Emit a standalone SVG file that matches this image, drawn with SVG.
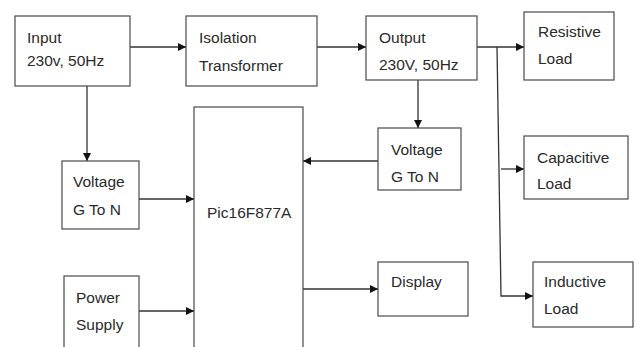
<svg xmlns="http://www.w3.org/2000/svg" width="636" height="347" viewBox="0 0 636 347">
<style>
.box{fill:#fff;stroke:#4a4a4a;stroke-width:1.2}
.t{font-family:"Liberation Sans",Arial,sans-serif;font-size:15.5px;fill:#2a2a2a}
.c{fill:none;stroke:#333;stroke-width:1.3}
</style>
<defs>
<marker id="ah" viewBox="0 0 10 10" refX="10" refY="5" markerWidth="8" markerHeight="8" markerUnits="userSpaceOnUse" orient="auto">
<path d="M0,0 L10,5 L0,10 Z" fill="#111"/>
</marker>
</defs>
<rect width="636" height="347" fill="#fff"/>
<g id="connectors">
<line class="c" x1="130" y1="47" x2="186" y2="47" marker-end="url(#ah)"/>
<line class="c" x1="317" y1="47" x2="366" y2="47" marker-end="url(#ah)"/>
<line class="c" x1="477" y1="47" x2="524" y2="47" marker-end="url(#ah)"/>
<line class="c" x1="87" y1="86" x2="87" y2="161" marker-end="url(#ah)"/>
<line class="c" x1="418" y1="80" x2="418" y2="128" marker-end="url(#ah)"/>
<line class="c" x1="378" y1="161" x2="303" y2="161" marker-end="url(#ah)"/>
<line class="c" x1="139" y1="199" x2="194" y2="199" marker-end="url(#ah)"/>
<line class="c" x1="139" y1="311" x2="194" y2="311" marker-end="url(#ah)"/>
<line class="c" x1="303" y1="289" x2="378" y2="289" marker-end="url(#ah)"/>
<polyline class="c" points="497,47 501,296 533,296" marker-end="url(#ah)"/>
<line class="c" x1="501" y1="169" x2="524" y2="169" marker-end="url(#ah)"/>
</g>
<g id="input">
<rect class="box" x="15" y="16" width="115" height="70"/>
<text class="t" x="27" y="43">Input</text>
<text class="t" x="27" y="66">230v, 50Hz</text>
</g>
<g id="isolation">
<rect class="box" x="186" y="16" width="131" height="70"/>
<text class="t" x="199" y="43">Isolation</text>
<text class="t" x="199" y="71">Transformer</text>
</g>
<g id="output">
<rect class="box" x="366" y="16" width="111" height="64"/>
<text class="t" x="379" y="43">Output</text>
<text class="t" x="379" y="70">230V, 50Hz</text>
</g>
<g id="resistive">
<rect class="box" x="524" y="12" width="90" height="68"/>
<text class="t" x="538" y="37">Resistive</text>
<text class="t" x="538" y="64">Load</text>
</g>
<g id="voltage-right">
<rect class="box" x="378" y="128" width="83" height="62"/>
<text class="t" x="391" y="155">Voltage</text>
<text class="t" x="391" y="182">G To N</text>
</g>
<g id="capacitive">
<rect class="box" x="524" y="136" width="104" height="63"/>
<text class="t" x="537" y="163">Capacitive</text>
<text class="t" x="537" y="189">Load</text>
</g>
<g id="pic">
<rect class="box" x="194" y="107" width="109" height="250"/>
<text class="t" x="207" y="218">Pic16F877A</text>
</g>
<g id="voltage-left">
<rect class="box" x="62" y="161" width="77" height="68"/>
<text class="t" x="73" y="187">Voltage</text>
<text class="t" x="73" y="215">G To N</text>
</g>
<g id="power">
<rect class="box" x="64" y="276" width="75" height="80"/>
<text class="t" x="76" y="303">Power</text>
<text class="t" x="76" y="330">Supply</text>
</g>
<g id="display">
<rect class="box" x="378" y="262" width="90" height="54"/>
<text class="t" x="391" y="287">Display</text>
</g>
<g id="inductive">
<rect class="box" x="533" y="262" width="100" height="65"/>
<text class="t" x="544" y="287">Inductive</text>
<text class="t" x="544" y="314">Load</text>
</g>
</svg>
